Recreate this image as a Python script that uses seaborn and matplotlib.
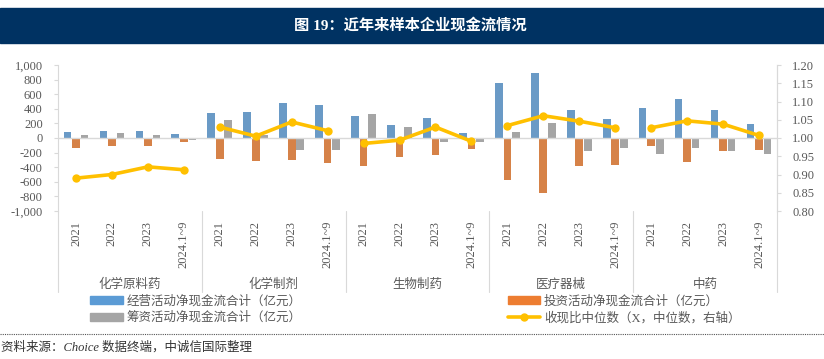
import numpy as np
import pandas as pd
import matplotlib
matplotlib.use("Agg")
import matplotlib.pyplot as plt
import matplotlib.ticker as mticker
from matplotlib.lines import Line2D
from matplotlib.patches import Patch, Rectangle
import seaborn as sns

# ---------------- data ----------------
groups = ["化学原料药", "化学制剂", "生物制药", "医疗器械", "中药"]
periods = ["2021", "2022", "2023", "2024.1~9"]

operating = [82, 95, 100, 59,
             347, 352, 479, 457,
             301, 174, 278, 64,
             753, 895, 388, 265,
             406, 534, 384, 187]
investing = [-137, -110, -105, -59,
             -292, -310, -306, -347,
             -384, -260, -237, -151,
             -571, -753, -388, -365,
             -105, -329, -174, -164]
financing = [35, 68, 36, -32,
             251, 40, -160, -160,
             333, 146, -59, -59,
             78, 201, -174, -132,
             -219, -142, -174, -219]
ratio = [0.890, 0.900, 0.921, 0.913,
         1.030, 1.005, 1.044, 1.020,
         0.985, 0.994, 1.030, 0.991,
         1.034, 1.061, 1.046, 1.028,
         1.028, 1.047, 1.038, 1.007]

series_names = ["经营活动净现金流合计（亿元）", "投资活动净现金流合计（亿元）", "筹资活动净现金流合计（亿元）"]
line_name = "收现比中位数（X，中位数，右轴）"
title = "图 19：近年来样本企业现金流情况"
source = "资料来源：Choice 数据终端，中诚信国际整理"

blue, orange, grey, yellow = "#5B9BD5", "#ED7D31", "#A5A5A5", "#FFC000"
txt = "#595959"
axis_col = "#D9D9D9"

# ---------------- tidy tables ----------------
keys = [f"{g}|{p}" for g in groups for p in periods]
bar_df = pd.DataFrame({
    "key": keys * 3,
    "series": np.repeat(series_names, len(keys)),
    "value": operating + investing + financing,
})
line_df = pd.DataFrame({
    "pos": np.arange(len(keys)),
    "group": np.repeat(groups, len(periods)),
    "ratio": ratio,
})

# ---------------- figure ----------------
sns.set_theme(style="white")
FAM = ["Liberation Serif", "Noto Sans CJK SC", "DejaVu Sans"]
plt.rcParams["font.family"] = FAM

W, H = 824, 359
fig = plt.figure(figsize=(W / 100, H / 100), dpi=100)
fig.subplots_adjust(left=58 / W, right=777 / W, top=1 - 65 / H, bottom=1 - 211 / H)
ax = fig.add_subplot(111)

sns.barplot(data=bar_df, x="key", y="value", hue="series", order=keys,
            hue_order=series_names, palette=[blue, orange, grey],
            width=0.71, gap=0.1, linewidth=0, ax=ax, legend=False)

ax.set_ylim(-1000, 1000)
ax.set_xlim(-0.5, len(keys) - 0.5)
ax.set_yticks(np.arange(-1000, 1001, 200))
ax.yaxis.set_major_formatter(mticker.FuncFormatter(lambda v, p: f"{int(v):,}"))
ax.axhline(0, color=axis_col, lw=1.0, zorder=1)
ax.set_xlabel("")
ax.set_ylabel("")
ax.set_xticks(range(len(keys)))
ax.set_xticklabels(periods * len(groups), rotation=90, va="top", ha="center",
                   family=FAM)
ax.tick_params(axis="x", length=0, pad=7, labelsize=9, labelcolor=txt)
ax.tick_params(axis="y", length=3, width=0.8, color=axis_col, pad=8,
               labelsize=9, labelcolor=txt, left=True)
for lab in ax.get_yticklabels():
    lab.set_family(FAM)
for s in ["top", "bottom"]:
    ax.spines[s].set_visible(False)
for s in ["left", "right"]:
    ax.spines[s].set_color(axis_col)
    ax.spines[s].set_linewidth(0.8)

# right axis with line
ax2 = ax.twinx()
sns.lineplot(data=line_df, x="pos", y="ratio", hue="group", hue_order=groups,
             palette=[yellow] * len(groups), marker="o", markersize=6,
             markeredgewidth=0, linewidth=2.6, ax=ax2, legend=False, zorder=5)
ax2.set_ylim(0.80, 1.20)
ax2.set_yticks(np.arange(0.80, 1.2001, 0.05))
ax2.yaxis.set_major_formatter(mticker.FormatStrFormatter("%.2f"))
ax2.set_ylabel("")
ax2.tick_params(axis="y", length=3, width=0.8, color=axis_col, pad=8,
                labelsize=9, labelcolor=txt, right=True)
for s in ["top", "bottom", "left"]:
    ax2.spines[s].set_visible(False)
ax2.spines["right"].set_color(axis_col)
ax2.spines["right"].set_linewidth(0.8)
ax2.set_xlim(ax.get_xlim())

# group separators and labels below the axis
trans = ax.get_xaxis_transform()
sep_bottom = -(292 - 211) / 146
for b in np.arange(-0.5, len(keys), len(periods)):
    ax.plot([b, b], [0, sep_bottom], transform=trans, color=axis_col, lw=0.8,
            clip_on=False)
for i, g in enumerate(groups):
    ax.text(i * len(periods) + 1.5, -(285 - 211) / 146, g, transform=trans,
            ha="center", va="center", fontsize=9, color=txt)

# legend
handles = [Patch(color=blue, label=series_names[0]),
           Patch(color=grey, label=series_names[2]),
           Patch(color=orange, label=series_names[1]),
           Line2D([0], [0], color=yellow, lw=2.6, marker="o", markersize=5,
                  label=line_name)]
fig.legend(handles=handles, ncol=2, loc="upper left",
           bbox_to_anchor=(90 / W, 1 - 295 / H), frameon=False,
           fontsize=9, labelcolor=txt, handlelength=2.6, handleheight=0.6,
           handletextpad=0.3, columnspacing=16.5, labelspacing=0.35,
           borderpad=0, borderaxespad=0)

# title banner
fig.add_artist(Rectangle((0, 1 - 43 / H), 1, 35 / H, transform=fig.transFigure,
                         color="#003262", zorder=0))
fig.text(410 / W, 1 - 25.5 / H, title, ha="center", va="center", color="white",
         fontsize=11, fontweight="bold")

# dotted rule and source
fig.add_artist(Line2D([0, 1], [1 - 334 / H] * 2, transform=fig.transFigure,
                      color="#555555", lw=0.8, linestyle=(0, (1, 1))))
fig.text(1 / W, 1 - 347 / H, source, ha="left", va="center", fontsize=9,
         color="#333333", style="italic")

fig.savefig("out.png", dpi=100)
